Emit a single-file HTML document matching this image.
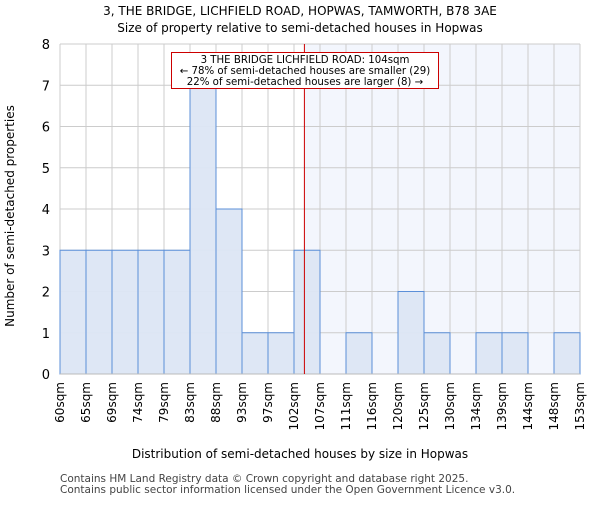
<!DOCTYPE html>
<html><head><meta charset="utf-8"><style>body{margin:0;background:#fff}svg{font-family:"DejaVu Sans","Liberation Sans",sans-serif}</style></head>
<body>
<svg id="c" width="600" height="500" xmlns="http://www.w3.org/2000/svg">
<text x="300" y="15" text-anchor="middle" font-size="12">3, THE BRIDGE, LICHFIELD ROAD, HOPWAS, TAMWORTH, B78 3AE</text>
<text x="300" y="32" text-anchor="middle" font-size="12">Size of property relative to semi-detached houses in Hopwas</text>
<g id="plot"></g>
<text x="300" y="458" text-anchor="middle" font-size="12">Distribution of semi-detached houses by size in Hopwas</text>
<text transform="translate(14,216) rotate(-90)" text-anchor="middle" font-size="12">Number of semi-detached properties</text>
<text x="60" y="482" font-size="10.5" fill="#444">Contains HM Land Registry data © Crown copyright and database right 2025.</text>
<text x="60" y="493" font-size="10.5" fill="#444">Contains public sector information licensed under the Open Government Licence v3.0.</text>
</svg>
<script>
const categories=["60sqm","65sqm","69sqm","74sqm","79sqm","83sqm","88sqm","93sqm","97sqm","102sqm","107sqm","111sqm","116sqm","120sqm","125sqm","130sqm","134sqm","139sqm","144sqm","148sqm","153sqm"];
const counts=[3,3,3,3,3,7,4,1,1,3,0,1,0,2,1,0,1,1,0,1];
const yTicks=[0,1,2,3,4,5,6,7,8];
const marker=[104];
const L=60,R=580,T=44,B=374,NS="http://www.w3.org/2000/svg";
const g=document.getElementById('plot');
const nb=counts.length,bw=(R-L)/nb;
const xb=i=>L+i*bw;
const y=v=>B-(v/8)*(B-T);
const xv=v=>{const edges=categories.map(c=>parseFloat(c));for(let i=0;i<edges.length-1;i++){if(v>=edges[i]&&v<=edges[i+1])return xb(i)+(v-edges[i])/(edges[i+1]-edges[i])*bw;}return R;};
function el(t,a,p){const e=document.createElementNS(NS,t);for(const k in a)e.setAttribute(k,a[k]);(p||g).appendChild(e);return e;}
const mx=xv(marker[0]);
let r=el('rect',{x:mx,y:T,width:R-mx,height:B-T,fill:'#f3f6fd'});


for(let i=0;i<=nb;i++){const l=el('line',{x1:xb(i),x2:xb(i),y1:T,y2:B,stroke:'#cccccc','stroke-width':1});}
yTicks.forEach(v=>{const l=el('line',{x1:L,x2:R,y1:y(v),y2:y(v),stroke:'#cccccc','stroke-width':1});
const t=el('text',{x:L-10,y:y(v)+5,'text-anchor':'end','font-size':13});t.textContent=v;});
counts.forEach((c,i)=>{if(!c)return;const b=el('rect',{x:xb(i),y:y(c),width:bw,height:B-y(c),fill:'#dce6f4','fill-opacity':0.95,stroke:'#5b8fd8','stroke-width':1});});
const ax=el('line',{x1:L,x2:R,y1:B,y2:B,stroke:'#bbbbbb'});
categories.forEach((c,i)=>{const t=el('text',{transform:`translate(${xb(i)+4},${B+8}) rotate(-90)`,'text-anchor':'end','font-size':12});t.textContent=c;});
const ml=el('line',{x1:mx,x2:mx,y1:T,y2:B,stroke:'#cc0000','stroke-width':1});
const box=el('rect',{x:171.5,y:52.5,width:267,height:36,fill:'#fff',stroke:'#cc0000','stroke-width':1});
["3 THE BRIDGE LICHFIELD ROAD: 104sqm","← 78% of semi-detached houses are smaller (29)","22% of semi-detached houses are larger (8) →"].forEach((s,k)=>{const t=el('text',{x:305,y:63+k*11,'text-anchor':'middle','font-size':10.2});t.textContent=s;});
</script>
</body></html>
